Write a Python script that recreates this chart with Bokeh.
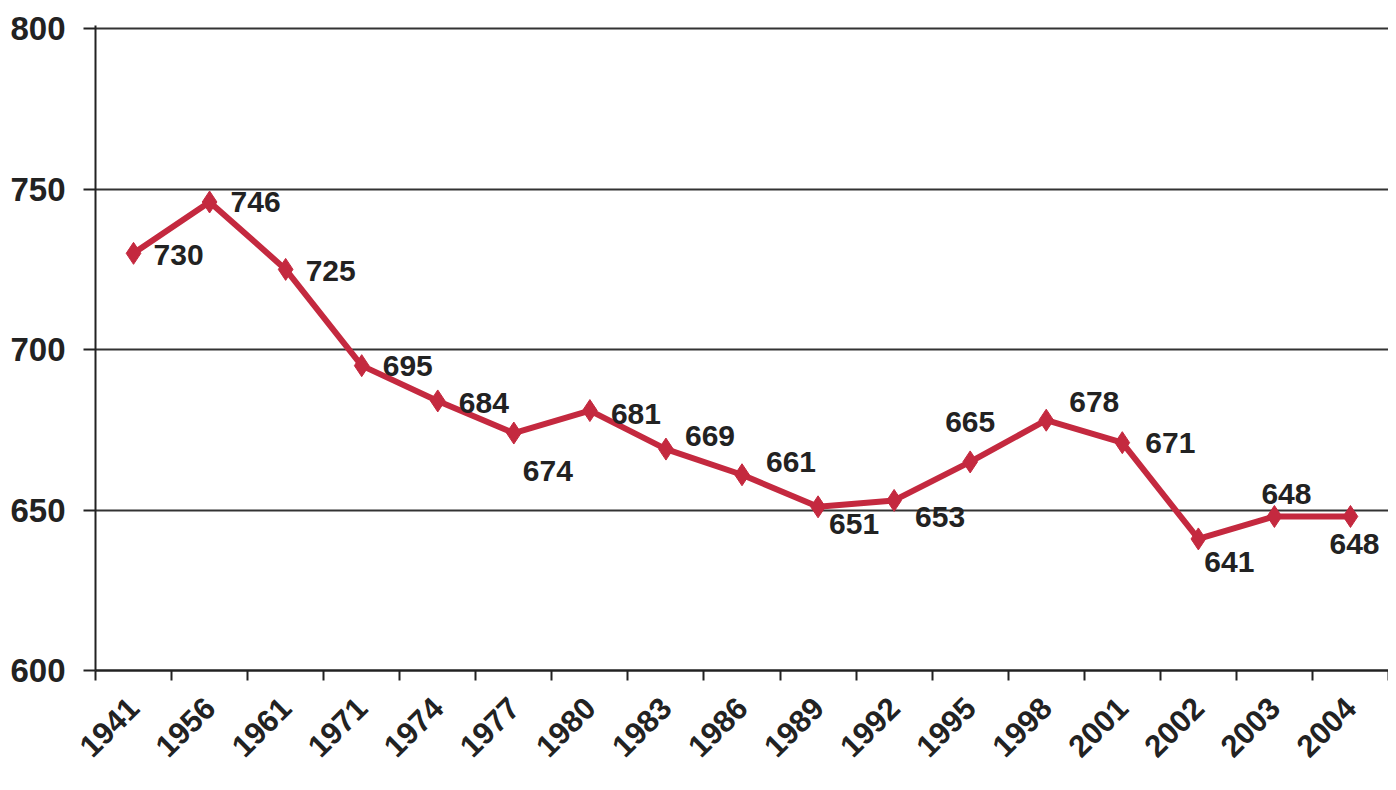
from bokeh.plotting import figure
from bokeh.models import FixedTicker, ColumnDataSource, Range1d
from bokeh.core.properties import value
from bokeh.embed import file_html
from bokeh.resources import INLINE
import math

years = ["1941", "1956", "1961", "1971", "1974", "1977", "1980", "1983", "1986",
         "1989", "1992", "1995", "1998", "2001", "2002", "2003", "2004"]
values = [730, 746, 725, 695, 684, 674, 681, 669, 661, 651, 653, 665, 678, 671, 641, 648, 648]
y_ticks = [600, 650, 700, 750, 800]

# label offsets (screen pixels, +dy = down) for the data labels, style only
lbl_dx = [20, 21, 20, 21, 21, 9, 21, 19, 24, 11, 21, -25, 23, 23, 6, -13, -21]
lbl_dy = [2, 0, 2, 0, 2, 38, 3, -13, -13, 17, 17, -40, -18, 0, 23, -22, 28]

FONT = "Liberation Sans"
RED = "#C4293F"

n = len(years)
xs = [i + 0.5 for i in range(n)]
src = ColumnDataSource(dict(x=xs, y=values, lab=[str(v) for v in values], dx=lbl_dx, dy=lbl_dy))

p = figure(width=1388, height=780, output_backend="svg", toolbar_location=None,
           x_range=Range1d(0, n), y_range=Range1d(600, 801),
           min_border_left=95, min_border_right=0, min_border_top=25, min_border_bottom=110)
p.outline_line_color = None
p.background_fill_color = "white"
p.border_fill_color = "white"

# x axis
p.xaxis.ticker = FixedTicker(ticks=xs, minor_ticks=list(range(n + 1)))
p.xaxis.major_label_overrides = {x: y for x, y in zip(xs, years)}
p.xaxis.major_tick_out = 0
p.xaxis.major_tick_in = 0
p.xaxis.minor_tick_out = 10
p.xaxis.minor_tick_in = 0
p.xaxis.minor_tick_line_color = "#222222"
p.xaxis.minor_tick_line_width = 2
p.xaxis.axis_line_color = "#222222"
p.xaxis.axis_line_width = 2.5
p.xaxis.major_label_orientation = math.pi / 4
p.xaxis.major_label_text_font = FONT
p.xaxis.major_label_text_font_style = "bold"
p.xaxis.major_label_text_font_size = "31px"
p.xaxis.major_label_text_color = "#222222"
p.xaxis.major_label_standoff = 22

# y axis
p.yaxis.ticker = FixedTicker(ticks=y_ticks)
p.yaxis.minor_tick_line_color = None
p.yaxis.major_tick_out = 12
p.yaxis.major_tick_in = 0
p.yaxis.major_tick_line_color = "#222222"
p.yaxis.major_tick_line_width = 2
p.yaxis.axis_line_color = "#222222"
p.yaxis.axis_line_width = 2
p.yaxis.major_label_text_font = FONT
p.yaxis.major_label_text_font_style = "bold"
p.yaxis.major_label_text_font_size = "33px"
p.yaxis.major_label_text_color = "#222222"
p.yaxis.major_label_standoff = 18

p.xgrid.grid_line_color = None
p.ygrid.ticker = FixedTicker(ticks=y_ticks[1:])
p.ygrid.grid_line_color = "#333333"
p.ygrid.grid_line_width = 1.8

p.line("x", "y", source=src, line_color=RED, line_width=6)
p.scatter("x", "y", source=src, marker="diamond", size=22, fill_color=RED, line_color=RED)
p.text("x", "y", text="lab", source=src, x_offset="dx", y_offset="dy",
       text_font=value(FONT), text_font_style="bold", text_font_size="30px",
       text_color="#222222", text_align="left", text_baseline="middle")

open("out.html", "w").write(file_html(p, INLINE))
